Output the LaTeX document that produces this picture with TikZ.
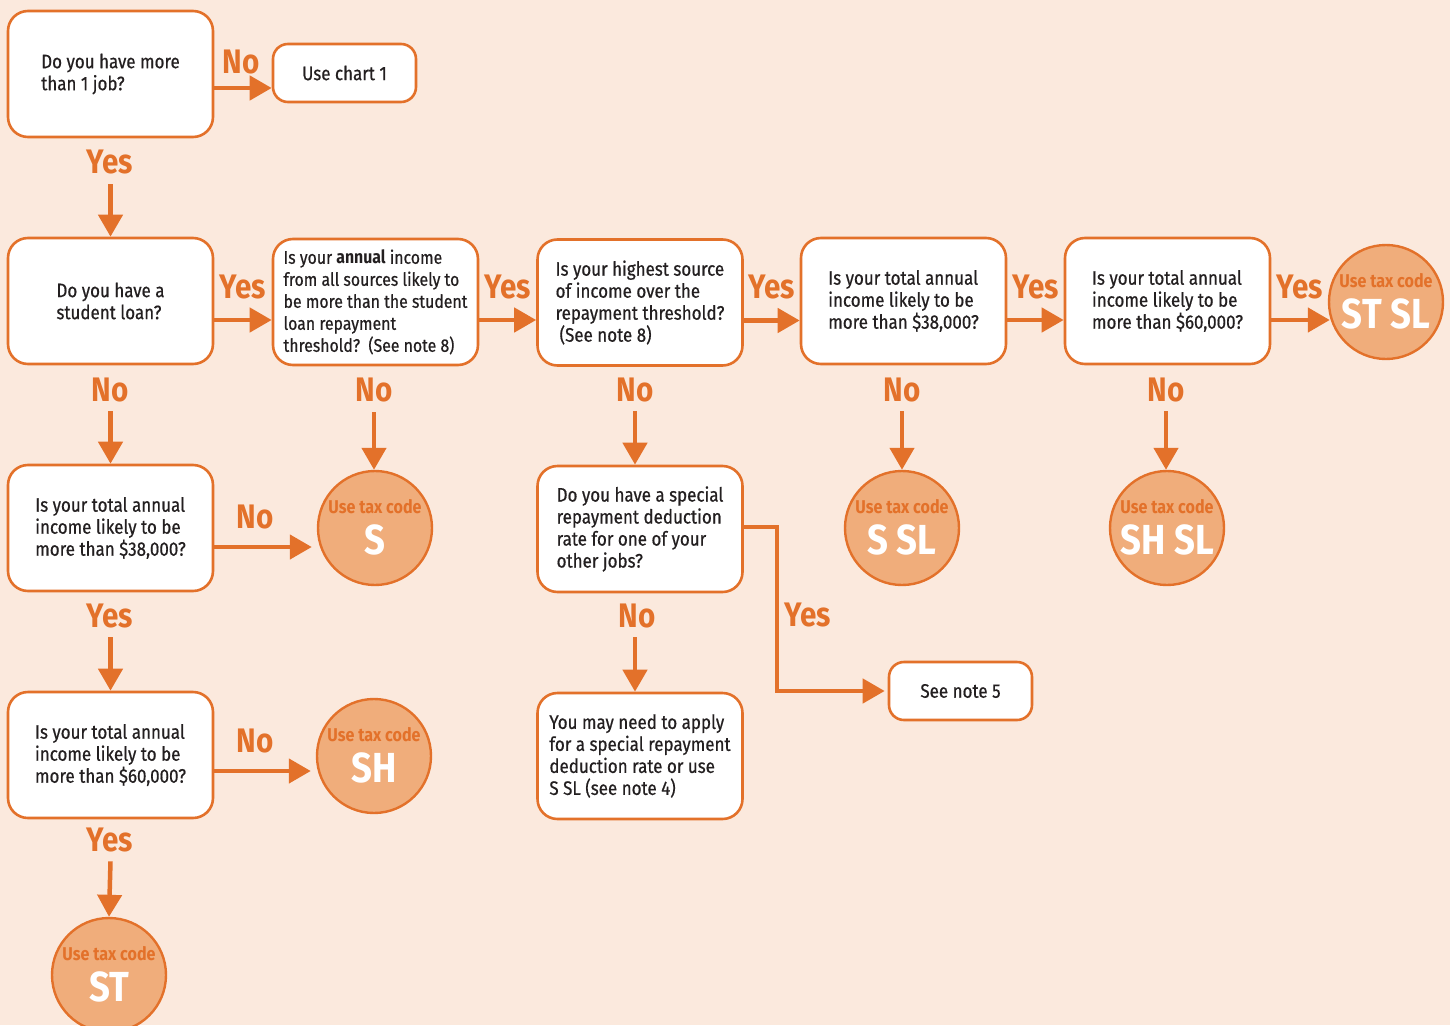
\documentclass[tikz,border=0pt]{standalone}
\usepackage{fontspec}
\setmainfont{Fira Sans}[FakeStretch=0.87, UprightFeatures={FakeBold=0.6}, BoldFeatures={FakeBold=0}]
\usetikzlibrary{arrows.meta}
\definecolor{bg}{HTML}{FBE9DD}
\definecolor{org}{HTML}{E3712A}
\definecolor{circ}{HTML}{F0AD7B}
\definecolor{txt}{HTML}{231F20}
\tikzset{
  box/.style={draw=org, line width=2.6pt, fill=white, rounded corners=20pt,
    minimum width=205pt, minimum height=126pt, align=left, text=txt,
    font=\fontsize{19.5}{22}\selectfont, inner sep=0pt},
  smallbox/.style={box, rounded corners=15pt, minimum width=143pt, minimum height=58pt},
  code/.style={circle, draw=org, line width=2.4pt, fill=circ, minimum size=114pt, inner sep=0pt},
  usetax/.style={text=org, font=\fontsize{18.5}{19}\selectfont\bfseries, inner sep=0pt},
  codetxt/.style={text=white, font=\fontsize{42}{42}\selectfont\bfseries, inner sep=0pt},
  lbl/.style={text=org, font=\fontsize{34}{34}\selectfont\bfseries, inner sep=0pt},
  arr/.style={draw=org, line width=4.5pt, -{Triangle[length=22pt,width=24pt]}},
}
\begin{document}
\begin{tikzpicture}[x=1pt,y=-1pt]
\path[use as bounding box] (0,0) rectangle (1450,1025);
\clip (0,0) rectangle (1450,1025);
\fill[bg] (0,0) rectangle (1450,1025);

% boxes
\node[box] (q1) at (110.5,74) {Do you have more\\than 1 job?};
\node[smallbox] (chart) at (344.5,73) {Use chart 1};
\node[box] (q2) at (110.5,301) {Do you have a\\student loan?};
\node[box, font=\fontsize{18.2}{22}\selectfont] (q3) at (375.5,302) {Is your \textbf{annual} income\\from all sources likely to\\be more than the student\\loan repayment\\threshold?\ \ (See note 8)};
\node[box] (q4) at (640,302.5) {Is your highest source\\of income over the\\repayment threshold?\\\hspace{4pt}(See note 8)};
\node[box] (q5) at (903.5,301) {Is your total annual\\income likely to be\\more than \$38,000?};
\node[box] (q6) at (1167.5,301) {Is your total annual\\income likely to be\\more than \$60,000?};
\node[box] (q7) at (110.5,528) {Is your total annual\\income likely to be\\more than \$38,000?};
\node[box] (q8) at (640,529) {Do you have a special\\repayment deduction\\rate for one of your\\other jobs?};
\node[box] (q9) at (110.5,755) {Is your total annual\\income likely to be\\more than \$60,000?};
\node[box] (q10) at (640,756) {You may need to apply\\for a special repayment\\deduction rate or use\\S SL (see note 4)};
\node[smallbox] (note5) at (960.5,691) {See note 5};

% circles
\node[code] (cstsl) at (1386,302) {};
\node[usetax] (cstsl-a) at ([yshift=21pt]cstsl.center) {Use tax code};
\node[codetxt] (cstsl-b) at ([yshift=-12pt]cstsl.center) {ST SL};
\node[code] (cs) at (375,528) {};
\node[usetax] (cs-a) at ([yshift=21pt]cs.center) {Use tax code};
\node[codetxt] (cs-b) at ([yshift=-12pt]cs.center) {S};
\node[code] (cssl) at (902,528) {};
\node[usetax] (cssl-a) at ([yshift=21pt]cssl.center) {Use tax code};
\node[codetxt] (cssl-b) at ([yshift=-12pt]cssl.center) {S SL};
\node[code] (cshsl) at (1167,528) {};
\node[usetax] (cshsl-a) at ([yshift=21pt]cshsl.center) {Use tax code};
\node[codetxt] (cshsl-b) at ([yshift=-12pt]cshsl.center) {SH SL};
\node[code] (csh) at (374,756) {};
\node[usetax] (csh-a) at ([yshift=21pt]csh.center) {Use tax code};
\node[codetxt] (csh-b) at ([yshift=-12pt]csh.center) {SH};
\node[code] (cst) at (109,975) {};
\node[usetax] (cst-a) at ([yshift=21pt]cst.center) {Use tax code};
\node[codetxt] (cst-b) at ([yshift=-12pt]cst.center) {ST};

% labels
\node[lbl] (l1) at (241,62) {No};
\node[lbl] (l2) at (110,162) {Yes};
\node[lbl] (l3) at (243,287) {Yes};
\node[lbl] (l4) at (508,287) {Yes};
\node[lbl] (l5) at (772,287) {Yes};
\node[lbl] (l6) at (1036,287) {Yes};
\node[lbl] (l7) at (1300,287) {Yes};
\node[lbl] (l8) at (110,390) {No};
\node[lbl] (l9) at (374,390) {No};
\node[lbl] (l10) at (635,390) {No};
\node[lbl] (l11) at (902,390) {No};
\node[lbl] (l12) at (1166,390) {No};
\node[lbl] (l13) at (255,517) {No};
\node[lbl] (l14) at (110,616) {Yes};
\node[lbl] (l15) at (637,616) {No};
\node[lbl] (l16) at (808,615) {Yes};
\node[lbl] (l17) at (255,741) {No};
\node[lbl] (l18) at (110,840) {Yes};

% horizontal arrows
\draw[arr] ([yshift=-14pt]q1.east) -- ([yshift=-14pt]q1.east -| chart.west);
\draw[arr] ([yshift=-19pt]q2.east) -- ([yshift=-19pt]q2.east -| q3.west);
\draw[arr] ([yshift=-18pt]q3.east) -- ([yshift=-18pt]q3.east -| q4.west);
\draw[arr] ([yshift=-18pt]q4.east) -- ([yshift=-18pt]q4.east -| q5.west);
\draw[arr] ([yshift=-19pt]q5.east) -- ([yshift=-19pt]q5.east -| q6.west);
\draw[arr] ([yshift=-19pt]q6.east) -- ([xshift=2pt,yshift=-18pt]cstsl.west);
\draw[arr] ([yshift=-19pt]q7.east) -- ([xshift=-5pt,yshift=-19pt]cs.west);
\draw[arr] ([yshift=-16pt]q9.east) -- ([xshift=-5pt,yshift=-15pt]csh.west);

% vertical arrows
\draw[arr] ([yshift=-46pt]q1.south) -- (q2.north);
\draw[arr] ([yshift=-46pt]q2.south) -- (q7.north);
\draw[arr] ([xshift=-1.5pt,yshift=-46pt]q3.south) -- ([xshift=-1pt]cs.north);
\draw[arr] ([xshift=-5pt,yshift=-44pt]q4.south) -- ([xshift=-5pt]q8.north);
\draw[arr] ([xshift=-1.5pt,yshift=-46pt]q5.south) -- (cssl.north);
\draw[arr] ([xshift=-1.5pt,yshift=-46pt]q6.south) -- ([xshift=-1pt]cshsl.north);
\draw[arr] ([yshift=-45pt]q7.south) -- (q9.north);
\draw[arr] ([xshift=-5pt,yshift=-44pt]q8.south) -- ([xshift=-5pt]q10.north);
\draw[arr] ([yshift=-42pt]q9.south) -- (cst.north);

% elbow connector
\coordinate (k) at (777,527);
\draw[arr] ([yshift=2pt]q8.east) -- (k) |- ([xshift=-3pt]note5.west);
\end{tikzpicture}
\end{document}
